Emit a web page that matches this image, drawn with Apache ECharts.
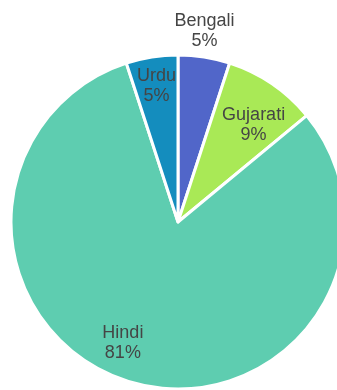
<!DOCTYPE html>
<html>
<head>
<meta charset="utf-8">
<style>
  html, body { margin: 0; padding: 0; background: #ffffff; }
  #chart { width: 337px; height: 390px; }
</style>
<script src="https://cdn.jsdelivr.net/npm/echarts@6/dist/echarts.min.js"></script>
</head>
<body>
<div id="chart"></div>
<script>
// Share of speakers by language
const languages = ['Bengali', 'Gujarati', 'Hindi', 'Urdu'];
const shares = [5, 9, 81, 5];
const sliceColors = ['#5166c9', '#a9e956', '#5ecdb0', '#148dbe'];
// nudges for each label away from the slice's inner midpoint
const labelNudges = [[13, -106], [27, -25], [-31, 38], [-8, -51]];

const chart = echarts.init(document.getElementById('chart'), null, { renderer: 'canvas' });

chart.setOption({
  animation: false,
  series: [{
    type: 'pie',
    center: [178, 222],
    radius: [0, 167],
    startAngle: 90,
    clockwise: true,
    avoidLabelOverlap: false,
    itemStyle: { borderColor: '#ffffff', borderWidth: 3 },
    label: {
      show: true,
      position: 'inside',
      formatter: p => p.name + '\n' + p.value + '%',
      fontFamily: 'Liberation Sans, Arial, sans-serif',
      fontSize: 18,
      lineHeight: 20,
      color: '#454545',
      align: 'center'
    },
    labelLine: { show: false },
    emphasis: { disabled: true },
    data: languages.map((name, i) => ({
      name: name,
      value: shares[i],
      itemStyle: { color: sliceColors[i] },
      label: { offset: labelNudges[i] }
    }))
  }]
});
</script>
</body>
</html>
